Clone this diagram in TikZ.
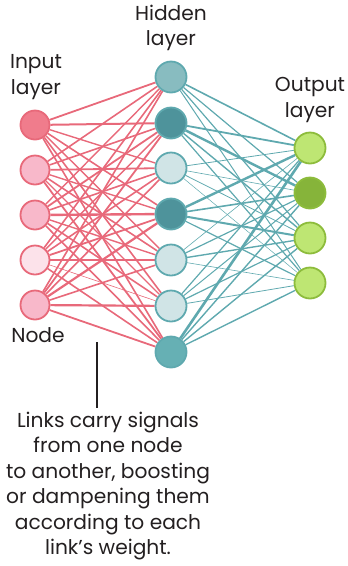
\documentclass[tikz,border=0pt]{standalone}
\usepackage{fontspec}
\setmainfont{Poppins}
\usetikzlibrary{backgrounds}
\definecolor{redline}{HTML}{E8697A}
\definecolor{inA}{HTML}{F07C8C}
\definecolor{inB}{HTML}{F8B8CA}
\definecolor{inC}{HTML}{FCE2EA}
\definecolor{tealline}{HTML}{5FA9AF}
\definecolor{hidA}{HTML}{88BCC0}
\definecolor{hidB}{HTML}{4E939B}
\definecolor{hidC}{HTML}{D0E4E6}
\definecolor{hidD}{HTML}{66B0B4}
\definecolor{grnline}{HTML}{8DBC3C}
\definecolor{outA}{HTML}{BEE673}
\definecolor{outB}{HTML}{86B43A}
\definecolor{txt}{HTML}{231F20}
\tikzset{
  x=1pt, y=-1pt,
  inode/.style={circle, draw=redline, line width=1.8pt, minimum size=29pt, inner sep=0pt},
  hnode/.style={circle, draw=tealline, line width=1.8pt, minimum size=31pt, inner sep=0pt},
  onode/.style={circle, draw=grnline, line width=1.8pt, minimum size=31pt, inner sep=0pt},
  lbl/.style={font=\fontsize{20.2}{25.5}\selectfont, text=txt, align=center, inner sep=0pt},
  rlink/.style={draw=redline},
  tlink/.style={draw=tealline},
}
\begin{document}
\begin{tikzpicture}
\useasboundingbox (0,0) rectangle (348,566);
% input layer
\node[inode, fill=inA] (i1) at (35,125) {};
\node[inode, fill=inB] (i2) at (35,170) {};
\node[inode, fill=inB] (i3) at (35,215) {};
\node[inode, fill=inC] (i4) at (35,260) {};
\node[inode, fill=inB] (i5) at (35,305) {};
% hidden layer
\node[hnode, fill=hidA] (h1) at (171,77) {};
\node[hnode, fill=hidB] (h2) at (171,123) {};
\node[hnode, fill=hidC] (h3) at (171,168) {};
\node[hnode, fill=hidB] (h4) at (171,214) {};
\node[hnode, fill=hidC] (h5) at (171,260) {};
\node[hnode, fill=hidC] (h6) at (171,306) {};
\node[hnode, fill=hidD] (h7) at (171,352) {};
% output layer
\node[onode, fill=outA] (o1) at (310,148) {};
\node[onode, fill=outB] (o2) at (310,193) {};
\node[onode, fill=outA] (o3) at (310,238) {};
\node[onode, fill=outA] (o4) at (310,283) {};
\begin{scope}[on background layer]
% input -> hidden links: i/h/width
\foreach \i/\h/\w in {
 1/1/1.8, 1/2/2.0, 1/3/1.4, 1/4/1.6, 1/5/1.4, 1/6/1.6, 1/7/1.6,
 2/1/1.6, 2/2/1.6, 2/3/1.8, 2/4/1.4, 2/5/1.6, 2/6/1.4, 2/7/1.8,
 3/1/1.4, 3/2/1.8, 3/3/1.6, 3/4/2.4, 3/5/1.4, 3/6/1.6, 3/7/1.6,
 4/1/1.6, 4/2/1.4, 4/3/1.6, 4/4/1.8, 4/5/1.8, 4/6/0.6, 4/7/1.6,
 5/1/1.6, 5/2/1.8, 5/3/1.6, 5/4/2.2, 5/5/1.6, 5/6/2.2, 5/7/1.8}
  \draw[rlink, line width=\w pt] (i\i) -- (h\h);
% hidden -> output links
\foreach \h/\o/\w in {
 1/1/1.6, 1/2/1.2, 1/3/1.2, 1/4/1.0,
 2/1/1.8, 2/2/2.4, 2/3/1.4, 2/4/1.2,
 3/1/0.8, 3/2/0.6, 3/3/0.8, 3/4/0.5,
 4/1/2.4, 4/2/1.6, 4/3/2.0, 4/4/1.2,
 5/1/0.6, 5/2/1.2, 5/3/1.4, 5/4/0.6,
 6/1/1.2, 6/2/1.0, 6/3/1.2, 6/4/0.8,
 7/1/2.6, 7/2/1.4, 7/3/1.4, 7/4/1.4}
  \draw[tlink, line width=\w pt] (h\h) -- (o\o);
\end{scope}
% labels
\node[lbl] (lin) at (36,77) {Input\\layer};
\node[lbl] (lhid) at (171,28) {Hidden\\layer};
\node[lbl] (lout) at (310,100) {Output\\layer};
\node[lbl] (lnode) at (38,335) {Node};
\node[lbl] (ltxt) at (108,486) {Links carry signals\\from one node\\to another, boosting\\or dampening them\\according to each\\link’s weight.};
\coordinate (ptop) at (97,342);
\coordinate (pbot) at (97,408);
\draw[draw=txt, line width=1.5pt] (ptop) -- (pbot);
\end{tikzpicture}
\end{document}
